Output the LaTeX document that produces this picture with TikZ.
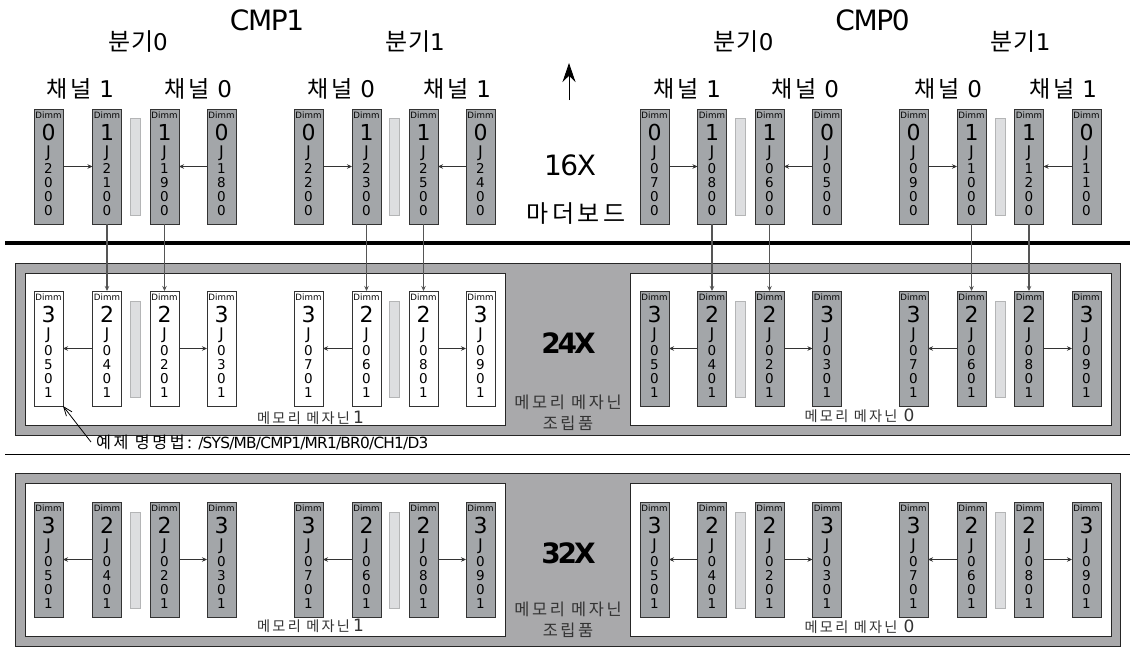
\documentclass[tikz,border=0pt]{standalone}
\usepackage{fontspec}
\usepackage{tikz}
\usetikzlibrary{arrows.meta}
\setmainfont{DejaVu Sans}
\newfontfamily\kor[LetterSpace=16]{Noto Sans CJK KR}
\newfontfamily\korb[LetterSpace=4]{Noto Sans CJK KR}
\newfontfamily\tight[LetterSpace=-5]{DejaVu Sans}
\newfontfamily\heavy[LetterSpace=-11]{DejaVu Sans}
\definecolor{dimmgray}{HTML}{A3A6A9}
\definecolor{bandgray}{HTML}{A9A9AB}
\definecolor{railgray}{HTML}{DDDEE0}
\definecolor{railline}{HTML}{B4B5B6}
\definecolor{wiregray}{HTML}{555555}
\newcommand{\fs}[1]{\fontsize{#1}{#1}\selectfont}
\newcommand{\dimmline}[2]{\hbox to 29pt{\hss\fs{#1}\smash{#2}\hss}}
\def\jsplit#1#2#3#4\relax{%
  \dimmline{13.5}{#1}\vskip14.1pt\dimmline{13.5}{#2}\vskip14.1pt\dimmline{13.5}{#3}\vskip14.1pt\dimmline{13.5}{#4}}
\newcommand{\dimmtext}[2]{\vbox to 115pt{\offinterlineskip\vskip9.5pt
  \dimmline{8.7}{Dimm}\vskip21.5pt\dimmline{22}{#1}\vskip17.7pt\dimmline{16}{J}\vskip15.3pt
  \expandafter\jsplit#2\relax\vfill}}
\tikzset{
  dimmbox/.style={draw=black!80,line width=0.9pt,inner sep=0pt,outer sep=0pt,anchor=north west,
    minimum width=29pt,minimum height=115pt},
  railbar/.style={fill=railgray,draw=railline,line width=0.9pt},
  board/.style={fill=bandgray,draw=black!85,line width=0.9pt},
  hwire/.style={-{Stealth[length=5pt,width=4.5pt]},black!80,line width=1.1pt},
  vwire/.style={-{Stealth[length=5pt,width=4.5pt]},wiregray,line width=1.2pt},
  cmplabel/.style={anchor=base,inner sep=0pt,font=\fs{28}\tight},
  boldlabel/.style={anchor=base,inner sep=0pt,font=\fs{28}\heavy\bfseries},
  branchlabel/.style={anchor=base,inner sep=0pt,font=\fs{23}},
  mezzlabel/.style={anchor=base,inner sep=0pt,text=black!80,font=\fs{16.4}},
  slotlabel/.style={anchor=base,inner sep=0pt,text=black!80,font=\fs{14.2}},
}
\begin{document}
\begin{tikzpicture}[x=1pt,y=-1pt]
\useasboundingbox (0,0) rectangle (1132,661);
\draw[line width=3.2pt] (5,243) -- (1130,243);
\draw[line width=0.9pt] (5,454) -- (1130,454);
% mezzanine boards
\foreach \ytop/\ybot in {263/435,473/646}{
  \draw[board] (15,\ytop) rectangle (1120,\ybot);
  \draw[board,fill=white] (25,\ytop+10) rectangle (505,\ybot-10);
  \draw[board,fill=white] (630,\ytop+10) rectangle (1111,\ybot-10);
}
\foreach \x in {130,389.5,735.5,995}{
  \draw[railbar] (\x,118) rectangle ++(10,97);
  \draw[railbar] (\x,301) rectangle ++(10,96);
  \draw[railbar] (\x,512) rectangle ++(10,96);
}
% one slot per row
\foreach \i/\x/\bigt/\bigm/\topj/\lowj in {1/34/0/3/2000/0501,2/92.5/1/2/2100/0401,3/150/1/2/1900/0201,4/207/0/3/1800/0301,
  5/294/0/3/2200/0701,6/352/1/2/2300/0601,7/409/1/2/2500/0801,8/466/0/3/2400/0901,
  9/640/0/3/0700/0501,10/697.5/1/2/0800/0401,11/755/1/2/0600/0201,12/812.5/0/3/0500/0301,
  13/899/0/3/0900/0701,14/957/1/2/1000/0601,15/1014.5/1/2/1200/0801,16/1072/0/3/1100/0901}{
  \ifnum\i<9 \def\midfill{white}\else\def\midfill{dimmgray}\fi
  \node[dimmbox,fill=dimmgray] (t\i) at (\x,109) {\dimmtext{\bigt}{\topj}};
  \node[dimmbox,fill=\midfill] (m\i) at (\x,291) {\dimmtext{\bigm}{\lowj}};
  \node[dimmbox,fill=dimmgray] (b\i) at (\x,502) {\dimmtext{\bigm}{\lowj}};
}
\foreach \a/\b in {1/2,4/3,5/6,8/7,9/10,12/11,13/14,16/15}
  \draw[hwire] (t\a) -- (t\b);
\foreach \a/\b in {2/1,3/4,6/5,7/8,10/9,11/12,14/13,15/16}{
  \draw[hwire] (m\a) -- (m\b);
  \draw[hwire] (b\a) -- (b\b);
}
\foreach \a in {2,3,6,7,10,11,14,15}
  \draw[vwire] (t\a.south) -- (m\a.north);
% headings
\node[cmplabel] (cmpa) at (267,30.5) {CMP1};
\node[cmplabel] (cmpb) at (872.5,30.5) {CMP0};
\foreach \n/\x/\v in {ba/138/0,bb/415/1,bc/743.5/0,bd/1020.5/1}
  \node[branchlabel] (\n) at (\x,51) {{\fs{24}\korb 분기}\v};
\foreach \n/\x/\v in {ca/80/1,cb/198/0,cc/341/0,cd/457/1,ce/687/1,cf/805/0,cg/948/0,ch/1063/1}
  \node[branchlabel] (\n) at (\x,97) {{\kor 채널} \v};
\coordinate (uptail) at (569,100);
\coordinate (uphead) at (569,63);
\draw[-{Stealth[length=19pt,width=13pt]},line width=0.9pt] (uptail) -- (uphead);
\node[cmplabel] (sixteen) at (570,175) {16X};
\node[branchlabel,font=\fs{24}] (mobo) at (576,222) {\kor 마더보드};
\node[boldlabel] (twentyfour) at (568.5,353) {24X};
\node[boldlabel] (thirtytwo) at (568.5,563.5) {32X};
\foreach \n/\y in {asma/408.5,asmb/615}
  \node[mezzlabel] (\n) at (568,\y) {\kor 메모리 메자닌};
\foreach \n/\y in {asmc/429,asmd/636.5}
  \node[mezzlabel] (\n) at (568,\y) {\kor 조립품};
\node[slotlabel] (mra) at (310.5,423.5) {{\kor 메모리 메자닌}\kern3pt{\fs{17}1}};
\node[slotlabel] (mrb) at (859.5,421.5) {{\kor 메모리 메자닌}\kern6pt{\fs{17}0}};
\node[slotlabel] (mrc) at (310.5,631.5) {{\kor 메모리 메자닌}\kern3pt{\fs{17}1}};
\node[slotlabel] (mrd) at (859.5,632.5) {{\kor 메모리 메자닌}\kern6pt{\fs{17}0}};
\node[anchor=base west,inner sep=0pt,font=\fs{15.35}] (namenote) at (96,448)
  {{\fs{16.2}\kor 예제 명명법:} {\tight /SYS/MB/CMP1/MR1/BR0/CH1/D3}};
\draw[-{Straight Barb[length=9pt,width=7pt]},line width=0.8pt] (namenote.west) ++(-5,0) -- (m1.south east);
\end{tikzpicture}
\end{document}
